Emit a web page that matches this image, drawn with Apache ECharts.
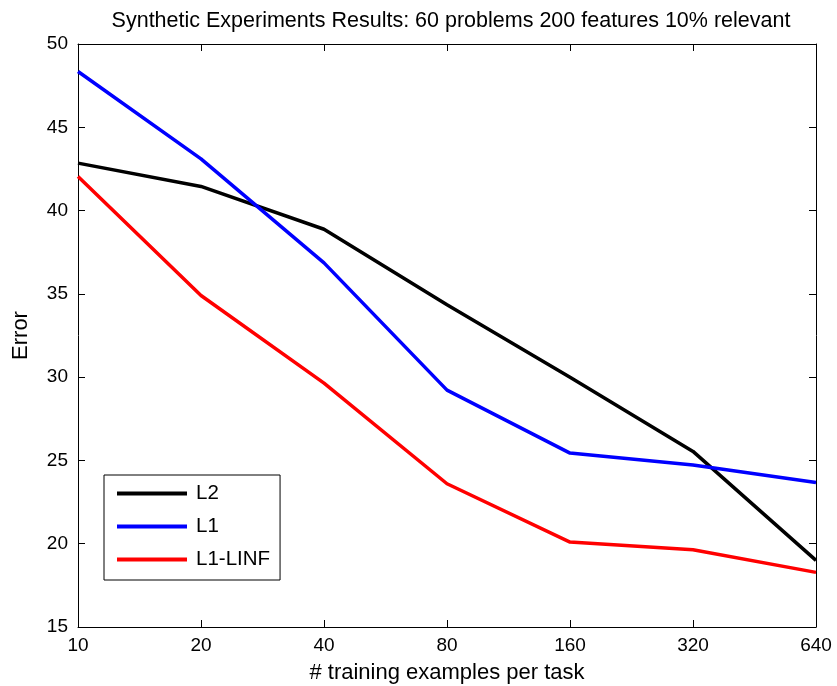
<!DOCTYPE html>
<html>
<head>
<meta charset="utf-8">
<title>Synthetic Experiments Results</title>
<script src="https://cdn.jsdelivr.net/npm/echarts@6/dist/echarts.min.js"></script>
<style>
  html, body { margin: 0; padding: 0; background: #fff; }
  #chart { width: 837px; height: 686px; }
</style>
</head>
<body>
<div id="chart"></div>
<script>
  "use strict"

  // training examples per task (log-spaced, shown as categories)
  var categories = [ '10', '20', '40', '80', '160', '320', '640' ];
  // error values
  var l2Values = [ 42.85, 41.45, 38.88, 34.35, 30.0, 25.54, 19.0 ];
  var l1Values = [ 48.35, 43.1, 36.86, 29.22, 25.44, 24.72, 23.68 ];
  var l1linfValues = [ 42.05, 34.9, 29.64, 23.6, 20.1, 19.64, 18.28 ];
  var yTicks = { min : 15, max : 50, step : 5 };

  var FONT = '"Liberation Sans", Arial, Helvetica, sans-serif';

  var chart = echarts.init(document.getElementById('chart'), null, { renderer : 'canvas' });

  function tickAxisStyle() {
    return {
      axisLine : { show : true, lineStyle : { color : '#000', width : 1 } },
      axisTick : { show : true, inside : true, length : 7, lineStyle : { color : '#000' } },
      splitLine : { show : false }
    };
  }

  var mainX = Object.assign({
    type : 'category',
    data : categories,
    boundaryGap : false,
    position : 'bottom',
    name : '# training examples per task',
    nameLocation : 'middle',
    nameGap : 35,
    nameTextStyle : { color : '#000', fontSize : 22, fontFamily : FONT },
    axisLabel : { color : '#000', fontSize : 19, fontFamily : FONT, margin : 9 }
  }, tickAxisStyle());

  var topX = Object.assign({
    type : 'category',
    data : categories,
    boundaryGap : false,
    position : 'top',
    axisLabel : { show : false }
  }, tickAxisStyle());

  var mainY = Object.assign({
    type : 'value',
    min : yTicks.min,
    max : yTicks.max,
    interval : yTicks.step,
    position : 'left',
    name : 'Error',
    nameLocation : 'middle',
    nameGap : 46,
    nameTextStyle : { color : '#000', fontSize : 22, fontFamily : FONT },
    axisLabel : { color : '#000', fontSize : 19, fontFamily : FONT, margin : 10 }
  }, tickAxisStyle());

  var rightY = Object.assign({
    type : 'value',
    min : yTicks.min,
    max : yTicks.max,
    interval : yTicks.step,
    position : 'right',
    axisLabel : { show : false }
  }, tickAxisStyle());

  function lineSeries(name, values, color) {
    return {
      name : name,
      type : 'line',
      data : values,
      xAxisIndex : 0,
      yAxisIndex : 0,
      symbol : 'none',
      lineStyle : { color : color, width : 3.5 },
      itemStyle : { color : color }
    };
  }

  var option = {
    animation : false,
    backgroundColor : '#fff',
    title : {
      text : 'Synthetic Experiments Results: 60 problems 200 features 10% relevant',
      left : 446,
      textAlign : 'center',
      top : 5,
      textStyle : { color : '#000', fontSize : 21.5, fontWeight : 'normal', fontFamily : FONT }
    },
    grid : {
      left : 78,
      right : 21,
      top : 44,
      bottom : 59,
      containLabel : false,
      outerBoundsMode : 'none'
    },
    legend : {
      orient : 'vertical',
      left : 104,
      top : 475,
      padding : [ 8, 10, 10, 13 ],
      backgroundColor : '#fff',
      borderColor : '#000',
      borderWidth : 1,
      borderRadius : 0,
      icon : 'rect',
      itemWidth : 70,
      itemHeight : 4,
      itemGap : 12,
      textStyle : { color : '#000', fontSize : 20.5, fontFamily : FONT, lineHeight : 20, padding : [ 0, 0, 0, 4 ] },
      data : [ 'L2', 'L1', 'L1-LINF' ]
    },
    xAxis : [ mainX, topX ],
    yAxis : [ mainY, rightY ],
    series : [
      lineSeries('L2', l2Values, '#000000'),
      lineSeries('L1', l1Values, '#0000ff'),
      lineSeries('L1-LINF', l1linfValues, '#ff0000')
    ]
  };

  chart.setOption(option);
</script>
</body>
</html>
